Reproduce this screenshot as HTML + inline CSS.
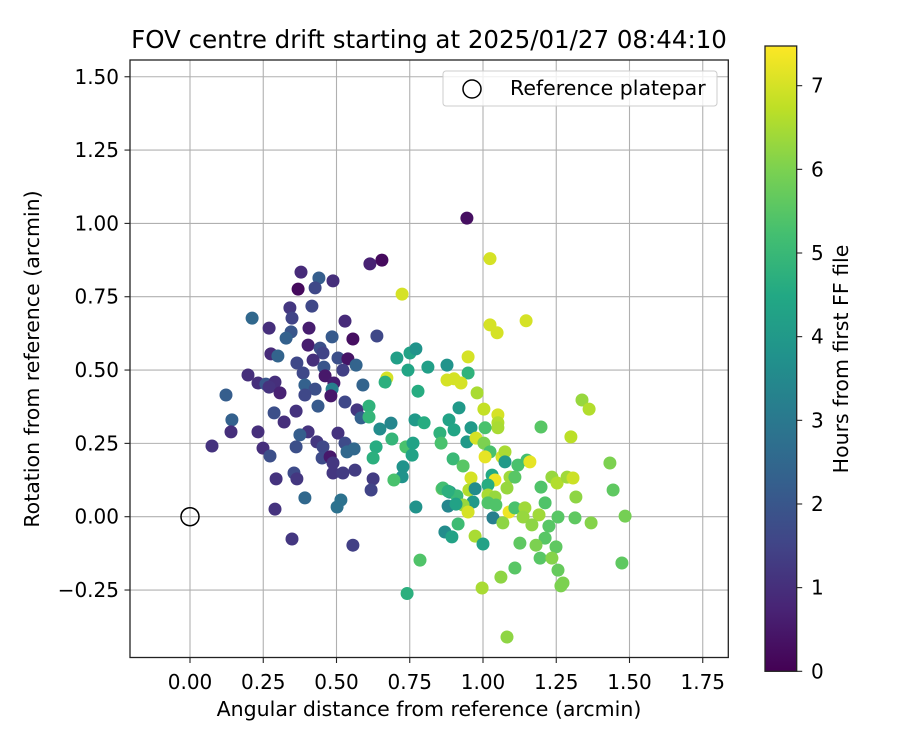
<!DOCTYPE html>
<html><head><meta charset="utf-8"><style>
html,body{margin:0;padding:0;background:#fff;}
svg text{font-family:"DejaVu Sans","Liberation Sans",sans-serif;fill:#000;}
</style></head><body>
<svg id="chart" width="900" height="750" viewBox="0 0 900 750" xmlns="http://www.w3.org/2000/svg">
<defs>
<linearGradient id="viridis" x1="0" y1="1" x2="0" y2="0">
<stop offset="0" stop-color="#440154"/><stop offset="0.1" stop-color="#482475"/><stop offset="0.2" stop-color="#414487"/><stop offset="0.3" stop-color="#355f8d"/><stop offset="0.4" stop-color="#2a788e"/><stop offset="0.5" stop-color="#21918c"/><stop offset="0.6" stop-color="#22a884"/><stop offset="0.7" stop-color="#44bf70"/><stop offset="0.8" stop-color="#7ad151"/><stop offset="0.9" stop-color="#bddf26"/><stop offset="1" stop-color="#fde725"/>
</linearGradient>
<clipPath id="plotclip"><rect x="130" y="60" width="598.3" height="597.5"/></clipPath>
</defs>
<g id="grid"></g>
<g id="points" clip-path="url(#plotclip)"></g>
<circle id="refmark" r="9" fill="none" stroke="#000" stroke-width="1.5"/>
<rect x="130" y="60" width="598.3" height="597.5" fill="none" stroke="#222" stroke-width="1.3"/>
<g id="xticks"></g>
<g id="yticks"></g>
<text x="429" y="48" font-size="24.5" text-anchor="middle">FOV centre drift starting at 2025/01/27 08:44:10</text>
<text x="429" y="716" font-size="20.5" text-anchor="middle">Angular distance from reference (arcmin)</text>
<text transform="translate(39,359) rotate(-90)" font-size="20.5" text-anchor="middle">Rotation from reference (arcmin)</text>
<g>
<rect x="443" y="71" width="274" height="35" rx="3" fill="#fff" fill-opacity="0.8" stroke="#ccc" stroke-width="1"/>
<circle cx="472" cy="89" r="9" fill="none" stroke="#000" stroke-width="1.5"/>
<text x="510" y="95" font-size="20.5">Reference platepar</text>
</g>
<g>
<rect x="765" y="46" width="31.7" height="625.3" fill="url(#viridis)" stroke="#222" stroke-width="1.3"/>
<g id="cticks"></g>
<text transform="translate(848,359) rotate(-90)" font-size="20.5" text-anchor="middle">Hours from first FF file</text>
</g>
</svg>
<script>
const xTicks=[0,0.25,0.5,0.75,1.0,1.25,1.5,1.75];
const xTickLabels=["0.00","0.25","0.50","0.75","1.00","1.25","1.50","1.75"];
const yTicks=[-0.25,0,0.25,0.5,0.75,1.0,1.25,1.5];
const yTickLabels=["\u22120.25","0.00","0.25","0.50","0.75","1.00","1.25","1.50"];
const cTicks=[0,1,2,3,4,5,6,7];
const refPoint=[0,0];
const xs=[0.945,0.655,0.614,0.379,0.440,0.488,0.369,0.427,0.724,0.341,0.416,0.348,0.212,0.270,0.406,0.529,0.345,0.328,0.485,0.556,0.638,0.403,0.444,0.454,0.276,0.300,0.420,0.505,0.539,0.365,0.567,0.457,0.522,0.386,0.461,0.491,0.198,0.232,0.259,0.290,0.270,0.307,0.392,0.427,0.392,0.485,0.481,0.590,0.123,0.529,0.437,0.362,0.570,0.584,0.611,0.611,0.287,0.321,0.143,0.140,0.232,0.403,0.375,0.505,0.648,0.686,0.075,0.249,0.273,0.362,0.433,0.454,0.451,0.478,0.529,0.536,0.560,0.488,0.488,0.522,0.563,0.635,0.625,0.689,0.737,0.761,0.758,0.727,0.724,0.696,0.625,0.618,0.294,0.355,0.365,0.392,0.515,0.502,0.290,0.771,0.860,0.706,0.751,0.771,0.744,0.812,0.778,0.672,0.666,0.768,0.799,0.853,0.857,0.877,0.877,0.348,0.556,
1.024,1.048,1.147,0.949,0.949,0.901,0.925,0.980,1.338,1.362,0.918,1.003,1.051,1.051,1.051,0.884,0.901,0.959,1.007,1.198,1.300,0.945,0.976,1.003,1.024,0.898,0.932,1.007,1.065,1.075,1.075,1.119,1.150,1.160,1.433,0.959,1.031,1.041,1.092,1.109,1.235,1.253,1.287,1.307,0.863,0.887,0.911,0.952,0.973,1.017,1.017,1.041,1.082,1.198,1.444,1.317,0.881,0.966,0.932,0.949,1.017,1.044,1.034,1.089,1.109,1.143,1.137,1.191,1.212,1.256,1.314,1.369,1.485,1.068,1.167,0.915,0.870,0.894,0.973,1.000,1.225,1.212,1.126,1.181,1.249,1.195,1.235,1.256,1.474,1.109,1.061,0.997,1.273,1.266,1.082,0.741,0.785,0.908,0.881,1.024];
const ys=[1.018,0.875,0.862,0.834,0.814,0.804,0.776,0.780,0.759,0.712,0.718,0.677,0.677,0.643,0.643,0.667,0.630,0.609,0.613,0.606,0.616,0.585,0.575,0.558,0.555,0.548,0.534,0.541,0.538,0.524,0.517,0.510,0.500,0.490,0.480,0.456,0.483,0.456,0.452,0.459,0.442,0.422,0.449,0.435,0.415,0.435,0.412,0.449,0.415,0.391,0.377,0.360,0.364,0.337,0.377,0.340,0.354,0.323,0.330,0.289,0.289,0.289,0.279,0.285,0.299,0.319,0.241,0.234,0.207,0.238,0.255,0.238,0.200,0.204,0.251,0.221,0.231,0.183,0.149,0.149,0.159,0.238,0.200,0.265,0.238,0.251,0.210,0.170,0.136,0.125,0.129,0.091,0.129,0.149,0.129,0.064,0.057,0.033,0.026,0.033,0.095,0.541,0.558,0.572,0.500,0.510,0.428,0.473,0.459,0.330,0.320,0.285,0.251,0.517,0.466,-0.076,-0.097,
0.654,0.627,0.668,0.545,0.490,0.470,0.456,0.422,0.398,0.367,0.371,0.367,0.347,0.320,0.303,0.330,0.296,0.303,0.303,0.306,0.272,0.255,0.268,0.251,0.221,0.197,0.173,0.204,0.204,0.221,0.187,0.176,0.193,0.187,0.183,0.132,0.142,0.125,0.135,0.135,0.135,0.115,0.135,0.132,0.098,0.084,0.071,0.091,0.095,0.108,0.074,0.067,0.098,0.101,0.091,0.067,0.036,0.050,0.040,0.016,0.047,0.040,-0.004,0.016,0.030,0.030,-0.001,0.006,0.047,-0.001,-0.004,-0.021,0.002,-0.021,-0.028,-0.025,-0.052,-0.069,-0.066,-0.093,-0.032,-0.073,-0.090,-0.097,-0.103,-0.141,-0.141,-0.182,-0.158,-0.175,-0.206,-0.243,-0.226,-0.236,-0.410,-0.262,-0.148,0.043,0.087,0.880];
const hours=[0.3,0.2,0.7,0.9,2.2,1.0,0.2,1.6,7.0,1.2,1.6,1.5,2.5,1.0,0.6,0.9,2.0,2.3,2.1,0.3,1.6,0.6,1.8,1.5,0.9,2.4,1.0,1.8,0.4,1.6,2.4,2.0,1.4,1.6,0.5,0.6,1.0,1.0,2.0,1.0,1.1,0.7,2.3,1.8,1.6,3.2,0.5,2.4,2.2,1.6,2.1,1.1,1.2,2.3,4.8,4.9,1.8,1.0,2.3,1.0,1.0,1.1,2.2,1.1,3.6,3.4,1.1,1.0,1.8,1.8,1.2,1.6,1.7,0.5,1.7,2.5,2.5,1.2,1.2,1.3,1.3,4.6,4.7,4.9,5.3,4.3,4.3,3.8,3.8,5.3,1.3,1.5,1.1,1.7,1.2,2.5,2.8,2.8,1.1,3.8,5.6,4.2,4.3,3.8,4.4,4.2,4.6,7.0,4.7,4.0,4.6,4.8,5.3,3.8,7.0,1.2,1.4,
7.0,7.0,7.0,7.0,4.8,7.0,7.0,6.5,6.3,6.6,4.0,6.8,7.0,6.6,6.5,4.3,4.4,4.0,5.3,5.5,6.7,4.0,7.0,6.0,5.3,5.0,5.5,7.2,7.0,6.5,4.0,5.3,5.2,7.2,6.0,7.0,4.5,7.3,6.4,5.5,6.3,6.6,6.4,6.9,5.2,3.7,5.0,6.6,3.6,4.6,6.5,6.3,6.3,5.4,5.6,6.2,3.4,4.0,6.3,7.0,5.4,5.4,3.2,7.3,5.3,6.4,6.3,6.4,5.4,5.5,5.6,6.1,5.9,6.2,6.2,5.1,3.6,4.3,6.5,4.3,5.5,5.5,5.6,6.0,5.6,5.5,6.1,5.7,5.6,5.5,6.2,6.5,6.0,6.0,6.2,4.7,5.4,4.3,4.7,7.0];

const NS="http://www.w3.org/2000/svg";
const X0=190, XS=293, Y0=516.7, YS=293.3;
const CB0=671.3, CBS=83.66, CMAX=7.47;
function sx(v){return X0+v*XS;}
function sy(v){return Y0-v*YS;}
function cy(v){return CB0-v*CBS;}
const stops=[[68,1,84],[72,36,117],[65,68,135],[53,95,141],[42,120,142],[33,145,140],[34,168,132],[68,191,112],[122,209,81],[189,223,38],[253,231,37]];
function viridis(h){let t=Math.max(0,Math.min(1,h/CMAX))*10;let i=Math.min(9,Math.floor(t));let f=t-i;const a=stops[i],b=stops[i+1];return `rgb(${Math.round(a[0]+(b[0]-a[0])*f)},${Math.round(a[1]+(b[1]-a[1])*f)},${Math.round(a[2]+(b[2]-a[2])*f)})`;}
function mk(tag,attrs,parent){const e=document.createElementNS(NS,tag);for(const k in attrs)e.setAttribute(k,attrs[k]);parent.appendChild(e);return e;}
const grid=document.getElementById('grid');
const xt=document.getElementById('xticks');
const yt=document.getElementById('yticks');
xTicks.forEach((v,i)=>{
  const g=mk('line',{x1:sx(v),x2:sx(v),y1:60,y2:657.5,stroke:'#b0b0b0','stroke-width':1.1},grid);
  
  
  const t=mk('line',{x1:sx(v),x2:sx(v),y1:657.5,y2:663,stroke:'#222','stroke-width':1.1},xt);
  
  
  const l=mk('text',{x:sx(v),y:689,'font-size':20,'text-anchor':'middle'},xt);
  l.textContent=xTickLabels[i];
  
  
});
yTicks.forEach((v,i)=>{
  const g=mk('line',{x1:130,x2:728.3,y1:sy(v),y2:sy(v),stroke:'#b0b0b0','stroke-width':1.1},grid);
  
  
  const t=mk('line',{x1:124.5,x2:130,y1:sy(v),y2:sy(v),stroke:'#222','stroke-width':1.1},yt);
  
  
  const l=mk('text',{x:119,y:sy(v)+7,'font-size':20,'text-anchor':'end'},yt);
  l.textContent=yTickLabels[i];
  
  
});
const pts=document.getElementById('points');
for(let i=0;i<xs.length;i++){
  const c=mk('circle',{cx:sx(xs[i]).toFixed(1),cy:sy(ys[i]).toFixed(1),r:6.5,fill:viridis(hours[i])},pts);
  
  
}
const ref=document.getElementById('refmark');
ref.setAttribute('cx',sx(refPoint[0]));ref.setAttribute('cy',sy(refPoint[1]));
const ct=document.getElementById('cticks');
cTicks.forEach(v=>{
  const t=mk('line',{x1:796.7,x2:802.2,y1:cy(v),y2:cy(v),stroke:'#222','stroke-width':1.1},ct);
  
  
  const l=mk('text',{x:811,y:cy(v)+7,'font-size':20},ct);
  l.textContent=String(v);
  
  
});
</script>
</body></html>
